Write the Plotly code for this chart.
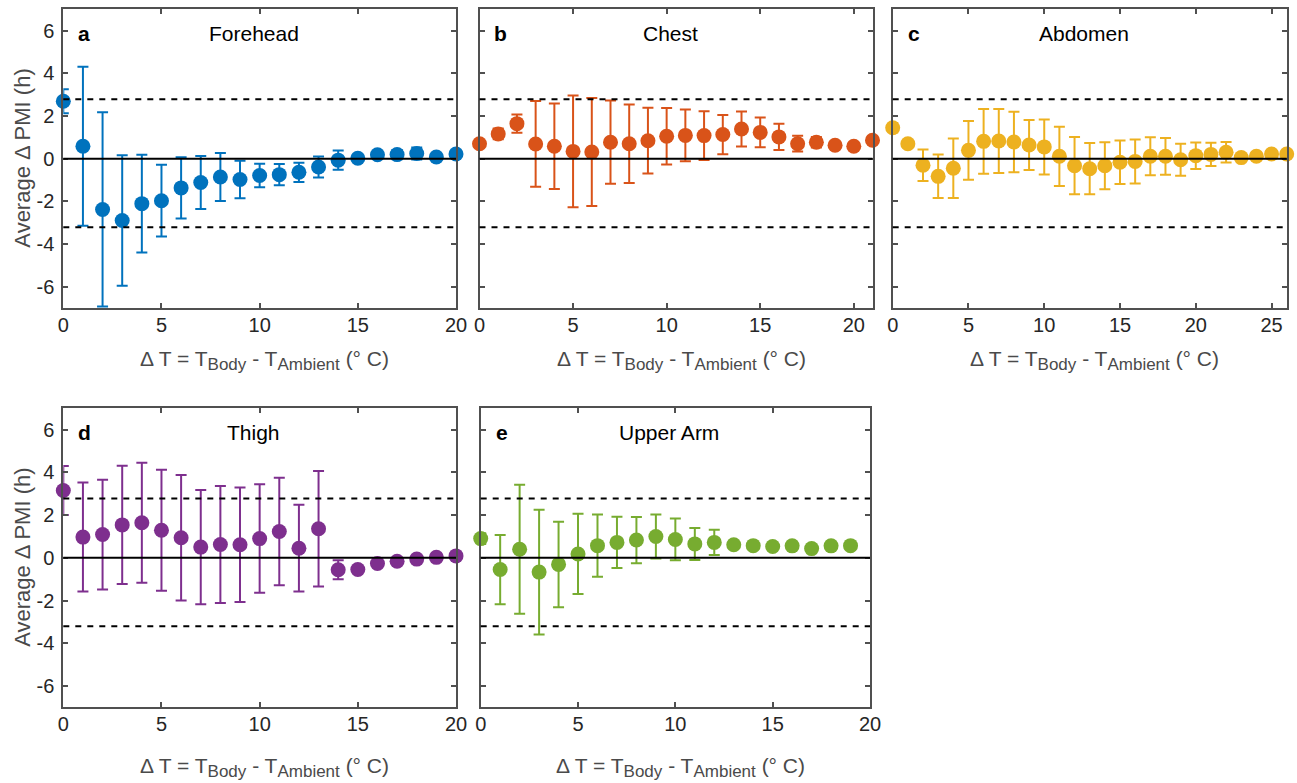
import plotly.graph_objects as go

W, H = 1297, 783

# ---------------- data ----------------
forehead_x = list(range(0, 21))
forehead_mean = [2.69, 0.58, -2.38, -2.90, -2.11, -1.97, -1.37, -1.12, -0.86, -0.98, -0.79,
                 -0.75, -0.64, -0.39, -0.07, 0.02, 0.18, 0.19, 0.24, 0.08, 0.22]
forehead_err = [0.56, 3.73, 4.55, 3.06, 2.29, 1.68, 1.43, 1.24, 1.13, 0.88, 0.55,
                0.50, 0.45, 0.49, 0.45, 0.08, 0.10, 0.22, 0.28, 0.05, 0.05]

chest_x = list(range(0, 22))
chest_mean = [0.70, 1.16, 1.64, 0.69, 0.58, 0.34, 0.31, 0.77, 0.70, 0.84, 1.05,
              1.09, 1.08, 1.13, 1.39, 1.23, 1.02, 0.70, 0.77, 0.63, 0.58, 0.86]
chest_err = [0.05, 0.25, 0.43, 2.01, 2.00, 2.62, 2.53, 1.95, 1.84, 1.54, 1.32,
             1.21, 1.14, 0.92, 0.82, 0.70, 0.61, 0.37, 0.25, 0.15, 0.05, 0.05]

abdomen_x = list(range(0, 27))
abdomen_mean = [1.45, 0.70, -0.31, -0.83, -0.45, 0.39, 0.81, 0.83, 0.78, 0.64, 0.55,
                0.11, -0.33, -0.47, -0.33, -0.17, -0.13, 0.11, 0.11, -0.05, 0.14,
                0.20, 0.30, 0.05, 0.11, 0.22, 0.22]
abdomen_err = [0.22, 0.05, 0.74, 1.02, 1.40, 1.38, 1.52, 1.50, 1.42, 1.17, 1.29,
               1.39, 1.34, 1.20, 1.10, 1.02, 1.03, 0.89, 0.86, 0.75, 0.62,
               0.55, 0.48, 0.05, 0.05, 0.05, 0.05]

thigh_x = list(range(0, 21))
thigh_mean = [3.15, 0.97, 1.09, 1.54, 1.64, 1.29, 0.94, 0.50, 0.62, 0.61, 0.90,
              1.23, 0.45, 1.36, -0.56, -0.55, -0.27, -0.16, -0.06, 0.02, 0.09]
thigh_err = [1.15, 2.55, 2.57, 2.77, 2.81, 2.83, 2.94, 2.68, 2.74, 2.68, 2.54,
             2.52, 2.03, 2.70, 0.44, 0.10, 0.05, 0.05, 0.05, 0.05, 0.05]

upperarm_x = list(range(0, 20))
upperarm_mean = [0.90, -0.55, 0.40, -0.67, -0.31, 0.18, 0.57, 0.72, 0.83, 1.00,
                 0.86, 0.65, 0.72, 0.61, 0.57, 0.53, 0.56, 0.43, 0.56, 0.57]
upperarm_err = [0.25, 1.62, 3.02, 2.92, 2.00, 1.88, 1.46, 1.20, 1.08, 1.03,
                0.98, 0.75, 0.59, 0.05, 0.05, 0.05, 0.05, 0.05, 0.05, 0.05]

upper_limit = 2.78
lower_limit = -3.21

y_ticks = [-6, -4, -2, 0, 2, 4, 6]
y_tick_labels = ["-6", "-4", "-2", "0", "2", "4", "6"]
x_ticks_20 = [0, 5, 10, 15, 20]
x_ticks_25 = [0, 5, 10, 15, 20, 25]

# ---------------- styling / layout ----------------
COLORS = ["#0072BD", "#D95319", "#EDB120", "#7E2F8E", "#77AC30"]
FONT = "Liberation Sans, Arial, Helvetica, sans-serif"
BOX = "#505050"
TICKC = "#262626"
TITLEC = "#4a4a4a"

panels = [
    dict(letter="a", name="Forehead", x=forehead_x, m=forehead_mean, e=forehead_err,
         xr=[0, 20], xt=x_ticks_20, px=(63.3, 456), py=(9.3, 308), ylab=True),
    dict(letter="b", name="Chest", x=chest_x, m=chest_mean, e=chest_err,
         xr=[0, 21], xt=x_ticks_20, px=(479.5, 872.5), py=(9.3, 308), ylab=False),
    dict(letter="c", name="Abdomen", x=abdomen_x, m=abdomen_mean, e=abdomen_err,
         xr=[0, 26], xt=x_ticks_25, px=(892.7, 1286.7), py=(9.3, 308), ylab=False),
    dict(letter="d", name="Thigh", x=thigh_x, m=thigh_mean, e=thigh_err,
         xr=[0, 20], xt=x_ticks_20, px=(63.3, 456), py=(408.3, 707.3), ylab=True),
    dict(letter="e", name="Upper Arm", x=upperarm_x, m=upperarm_mean, e=upperarm_err,
         xr=[0, 20], xt=x_ticks_20, px=(480.7, 870), py=(408.3, 707.3), ylab=False),
]

fig = go.Figure()
shapes = []
annotations = []


def fx(p):
    return p / W


def fy(p):
    return 1 - p / H


SUB = "<sub><span style='font-size:17px'>{}</span></sub>"
XTITLE = "Δ T = T" + SUB.format("Body") + " - T" + SUB.format("Ambient") + " (° C)"

for i, p in enumerate(panels):
    n = "" if i == 0 else str(i + 1)
    xa, ya = "x" + n, "y" + n
    fig.add_trace(go.Scatter(
        x=p["x"], y=p["m"], mode="markers", xaxis=xa, yaxis=ya,
        marker=dict(color=COLORS[i], size=15, line=dict(width=0)),
        error_y=dict(type="data", array=p["e"], visible=True, color=COLORS[i],
                     thickness=2, width=5.5),
        cliponaxis=False, showlegend=False,
    ))
    axis_common = dict(showline=True, mirror="allticks", linecolor=BOX, linewidth=2,
                       ticks="inside", ticklen=5, tickwidth=1.5, tickcolor=BOX,
                       showgrid=False, zeroline=False,
                       tickfont=dict(family=FONT, size=20, color=TICKC))
    fig.update_layout(**{
        ("xaxis" + n): dict(axis_common, domain=[fx(p["px"][0]), fx(p["px"][1])],
                            range=p["xr"], tickvals=p["xt"],
                            ticktext=[str(v) for v in p["xt"]],
                            anchor=ya, ticklabelstandoff=-2),
        ("yaxis" + n): dict(axis_common, domain=[fy(p["py"][1]), fy(p["py"][0])],
                            range=[-7, 7], tickvals=y_ticks, ticktext=y_tick_labels,
                            anchor=xa, showticklabels=p["ylab"], ticklabelstandoff=3),
    })
    # reference lines
    for yv, dash in [(0, "solid"), (upper_limit, "dash"), (lower_limit, "dash")]:
        shapes.append(dict(type="line", xref=xa + " domain", yref=ya, x0=0, x1=1,
                           y0=yv, y1=yv, layer="above",
                           line=dict(color="black", width=2,
                                     dash="solid" if dash == "solid" else "6px,6px")))
    top = p["py"][0]
    cx = (p["px"][0] + p["px"][1]) / 2
    annotations.append(dict(text="<b>" + p["letter"] + "</b>", xref="paper", yref="paper",
                            x=fx(p["px"][0] + 21), y=fy(top + 24), showarrow=False,
                            xanchor="center", yanchor="middle",
                            font=dict(family=FONT, size=21, color="black")))
    annotations.append(dict(text=p["name"], xref="paper", yref="paper",
                            x=fx(cx - 6), y=fy(top + 24), showarrow=False,
                            xanchor="center", yanchor="middle",
                            font=dict(family=FONT, size=21, color="black")))
    xt_y = p["py"][1] + (52 if top < 100 else 60)
    annotations.append(dict(text=XTITLE,
                            xref="paper", yref="paper", x=fx(cx + 5), y=fy(xt_y),
                            showarrow=False, xanchor="center", yanchor="middle",
                            font=dict(family=FONT, size=21, color=TITLEC)))
    if p["ylab"]:
        annotations.append(dict(text="Average Δ PMI (h)", xref="paper", yref="paper",
                                x=fx(23), y=fy((p["py"][0] + p["py"][1]) / 2),
                                showarrow=False, textangle=-90,
                                xanchor="center", yanchor="middle",
                                font=dict(family=FONT, size=22, color=TITLEC)))

fig.update_layout(width=W, height=H, margin=dict(l=0, r=0, t=0, b=0, autoexpand=False),
                  paper_bgcolor="white", plot_bgcolor="white",
                  shapes=shapes, annotations=annotations)

fig.write_html("out.html", config={"responsive": False, "displayModeBar": False},
               post_script="document.body.style.margin='0';"
                           "document.body.style.overflow='hidden';")
